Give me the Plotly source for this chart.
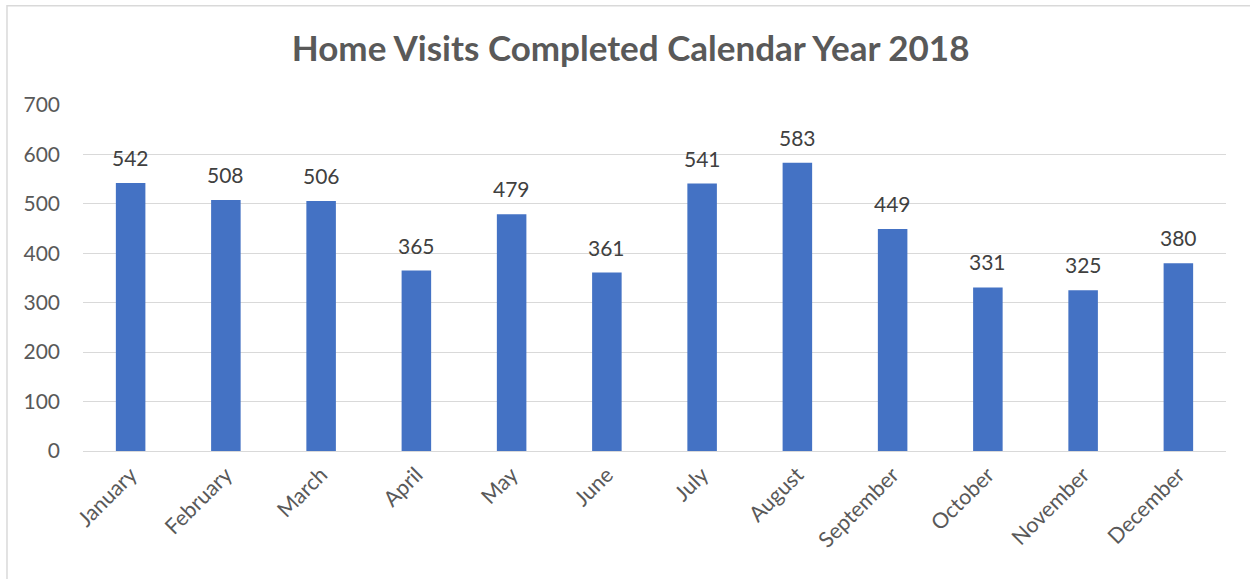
import plotly.graph_objects as go

months = ["January", "February", "March", "April", "May", "June",
          "July", "August", "September", "October", "November", "December"]
visits = [542, 508, 506, 365, 479, 361, 541, 583, 449, 331, 325, 380]
y_ticks = [0, 100, 200, 300, 400, 500, 600, 700]

FONT = "Lato, Calibri, sans-serif"

fig = go.Figure()
fig.add_trace(go.Bar(
    x=months, y=visits,
    marker=dict(color="#4472C4", line=dict(width=0)),
    width=0.31,
    hoverinfo="x+y",
))

# value labels above each bar
for m, v in zip(months, visits):
    fig.add_annotation(x=m, y=v, text=str(v), showarrow=False,
                       yanchor="bottom", yshift=11,
                       font=dict(family=FONT, size=21, color="#404040"))

# thin frame around the whole chart
fig.add_shape(type="rect", xref="paper", yref="paper",
              x0=-0.0665, x1=1.05, y0=-0.5, y1=1.2865,
              line=dict(color="#D9D9D9", width=1.5), layer="below")

fig.update_layout(
    width=1250, height=579,
    margin=dict(l=83, r=24, t=105, b=128),
    paper_bgcolor="white", plot_bgcolor="white",
    title=dict(text="<b>Home Visits Completed Calendar Year 2018</b>",
               x=0.5045, xanchor="center", y=0.915, yanchor="middle",
               font=dict(family=FONT, size=35, color="#595959")),
    showlegend=False,
    bargap=0.69,
    xaxis=dict(tickangle=-45, showgrid=False, showline=False, ticks="",
               ticklabelstandoff=6,
               tickfont=dict(family=FONT, size=21.5, color="#595959")),
    yaxis=dict(range=[0, 700], tickvals=y_ticks, showgrid=True,
               gridcolor="#D9D9D9", gridwidth=1, zeroline=True,
               zerolinecolor="#D9D9D9", zerolinewidth=1, showline=False,
               ticks="", ticklabelstandoff=22,
               tickfont=dict(family=FONT, size=21, color="#595959")),
)

fig.write_html("out.html")
